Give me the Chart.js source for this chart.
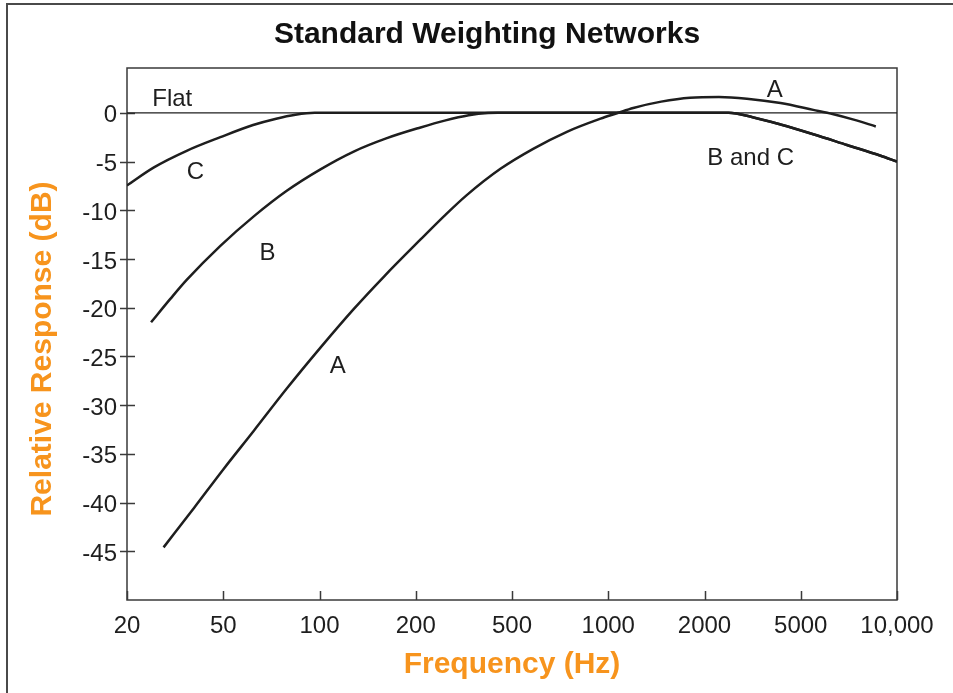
<!DOCTYPE html>
<html>
<head>
<meta charset="utf-8">
<title>Standard Weighting Networks</title>
<script src="https://cdn.jsdelivr.net/npm/chart.js@4.4.1/dist/chart.umd.min.js"></script>
<style>
  html, body { margin: 0; padding: 0; background: #fff; }
  #wrap { position: relative; width: 953px; height: 693px; }
  #edge { position: absolute; left: 6px; top: 3px; right: 0; bottom: 0;
          border-left: 2px solid #4a4a4a; border-top: 2px solid #4a4a4a; pointer-events: none; }
</style>
</head>
<body>
<div id="wrap">
  <canvas id="weightingChart" width="953" height="693"></canvas>
  <div id="edge"></div>
</div>
<script>
// x runs over evenly spaced frequency steps (0 = 20 Hz ... 8 = 10 kHz)
const freqLabels = ['20', '50', '100', '200', '500', '1000', '2000', '5000', '10,000'];
const dbTicks = [0, -5, -10, -15, -20, -25, -30, -35, -40, -45];

// A weighting
const aPos  = [0.38, 0.70, 1.00, 1.32, 1.66, 2.01, 2.35, 2.67, 3.05, 3.30, 3.53, 3.88, 4.22, 4.57, 4.92, 5.09, 5.26, 5.55, 5.85, 6.15, 6.44, 6.79, 7.13, 7.34, 7.55, 7.78];
const aResp = [-44.6, -40.5, -36.6, -32.6, -28.3, -24.1, -20.2, -16.8, -13.0, -10.55, -8.45, -5.75, -3.7, -1.95, -0.6, -0.05, 0.5, 1.15, 1.55, 1.62, 1.45, 1.0, 0.3, -0.15, -0.7, -1.4];

// B weighting (low end)
const bPos  = [0.25, 0.45, 0.62, 0.97, 1.32, 1.66, 2.01, 2.35, 2.70, 3.05, 3.30, 3.55, 3.75, 3.85];
const bResp = [-21.5, -19.1, -17.15, -13.65, -10.6, -8.0, -5.8, -4.0, -2.6, -1.5, -0.8, -0.25, -0.02, 0];

// C weighting (low end)
const cPos  = [0, 0.28, 0.62, 0.97, 1.31, 1.55, 1.75, 1.95];
const cResp = [-7.45, -5.6, -3.9, -2.5, -1.25, -0.6, -0.2, 0];

// B and C share the same high-frequency roll-off
const bcPos  = [6.25, 6.50, 6.79, 7.13, 7.48, 7.83, 8.00];
const bcResp = [0, -0.45, -1.2, -2.2, -3.3, -4.4, -5.0];

// flat reference
const flatPos  = [0, 8];
const flatResp = [0, 0];

// curve captions
const captionText = ['Flat', 'C', 'B', 'A', 'A', 'B and C'];
const captionPos  = [0.47, 0.71, 1.46, 2.19, 6.73, 6.48];
const captionResp = [1.4, -6.1, -14.4, -26.0, 2.3, -4.7];

const chartTitle = 'Standard Weighting Networks';
const yTitle = 'Relative Response (dB)';

const toPoints = (xs, ys) => xs.map((v, i) => ({ x: v, y: ys[i] }));

const ink = '#1e1e1e';
const orange = '#f7941d';
const fontFamily = '"Liberation Sans", Arial, Helvetica, sans-serif';

Chart.defaults.font.family = fontFamily;

// plot frame plus tick marks that sit inside the box
const frameTicks = {
  id: 'frameTicks',
  beforeDatasetsDraw(chart) {
    const { ctx, chartArea: a, scales: { x, y } } = chart;
    ctx.save();
    ctx.strokeStyle = '#3a3a3a';
    ctx.lineWidth = 1.5;
    ctx.strokeRect(a.left, a.top, a.right - a.left, a.bottom - a.top);
    ctx.beginPath();
    y.ticks.forEach(t => {
      const py = Math.round(y.getPixelForValue(t.value)) + 0.5;
      ctx.moveTo(a.left - 7, py);
      ctx.lineTo(a.left + 8, py);
    });
    x.ticks.forEach(t => {
      const px = Math.round(x.getPixelForValue(t.value)) + 0.5;
      ctx.moveTo(px, a.bottom);
      ctx.lineTo(px, a.bottom - 9);
    });
    ctx.stroke();
    ctx.restore();
  }
};

// titles and the captions next to each curve
const captions = {
  id: 'captions',
  afterDatasetsDraw(chart) {
    const { ctx, chartArea: a, scales: { x, y } } = chart;
    ctx.save();
    ctx.fillStyle = ink;
    ctx.textAlign = 'center';
    ctx.textBaseline = 'middle';
    ctx.font = '24px ' + fontFamily;
    captionText.forEach((t, i) => {
      ctx.fillText(t, x.getPixelForValue(captionPos[i]), y.getPixelForValue(captionResp[i]));
    });

    ctx.font = 'bold 30px ' + fontFamily;
    ctx.fillStyle = '#111';
    ctx.fillText(chartTitle, 487, 35);

    // y axis title sits a little below the middle of the plot
    ctx.fillStyle = orange;
    ctx.translate(43, (a.top + a.bottom) / 2 + 15);
    ctx.rotate(-Math.PI / 2);
    ctx.fillText(yTitle, 0, 0);
    ctx.restore();
  }
};

const curve = (label, data, width) => ({
  label,
  data,
  borderColor: ink,
  borderWidth: width,
  pointRadius: 0,
  fill: false,
  cubicInterpolationMode: 'monotone'
});

const ctx = document.getElementById('weightingChart').getContext('2d');
const weightingChart = new Chart(ctx, {
  type: 'line',
  data: {
    datasets: [
      curve('Flat', toPoints(flatPos, flatResp), 1.3),
      curve('A', toPoints(aPos, aResp), 2.5),
      curve('B', toPoints(bPos.concat(bcPos), bResp.concat(bcResp)), 2.5),
      curve('C', toPoints(cPos.concat(bcPos), cResp.concat(bcResp)), 2.5)
    ]
  },
  options: {
    responsive: false,
    animation: false,
    layout: {
      padding: { top: 68, right: 56, bottom: 0, left: 0 }
    },
    scales: {
      x: {
        type: 'linear',
        min: 0,
        max: 8,
        afterBuildTicks: s => { s.ticks = freqLabels.map((_, i) => ({ value: i })); },
        afterFit: s => { s.height = 93; },
        grid: { display: false, drawTicks: false },
        border: { display: false },
        ticks: {
          padding: 12,
          color: ink,
          font: { size: 24 },
          maxRotation: 0,
          callback: (v, i) => freqLabels[i]
        },
        title: {
          display: true,
          text: 'Frequency (Hz)',
          color: orange,
          font: { size: 30, weight: 'bold' },
          padding: { top: 0, bottom: 10 }
        }
      },
      y: {
        type: 'linear',
        min: -50,
        max: 4.6,
        afterBuildTicks: s => { s.ticks = dbTicks.map(v => ({ value: v })); },
        afterFit: s => { s.width = 127; },
        grid: { display: false, drawTicks: false },
        border: { display: false },
        ticks: {
          padding: 10,
          labelOffset: 3,
          color: ink,
          font: { size: 24 }
        }
      }
    },
    plugins: {
      legend: { display: false },
      tooltip: { enabled: false }
    }
  },
  plugins: [frameTicks, captions]
});
</script>
</body>
</html>
